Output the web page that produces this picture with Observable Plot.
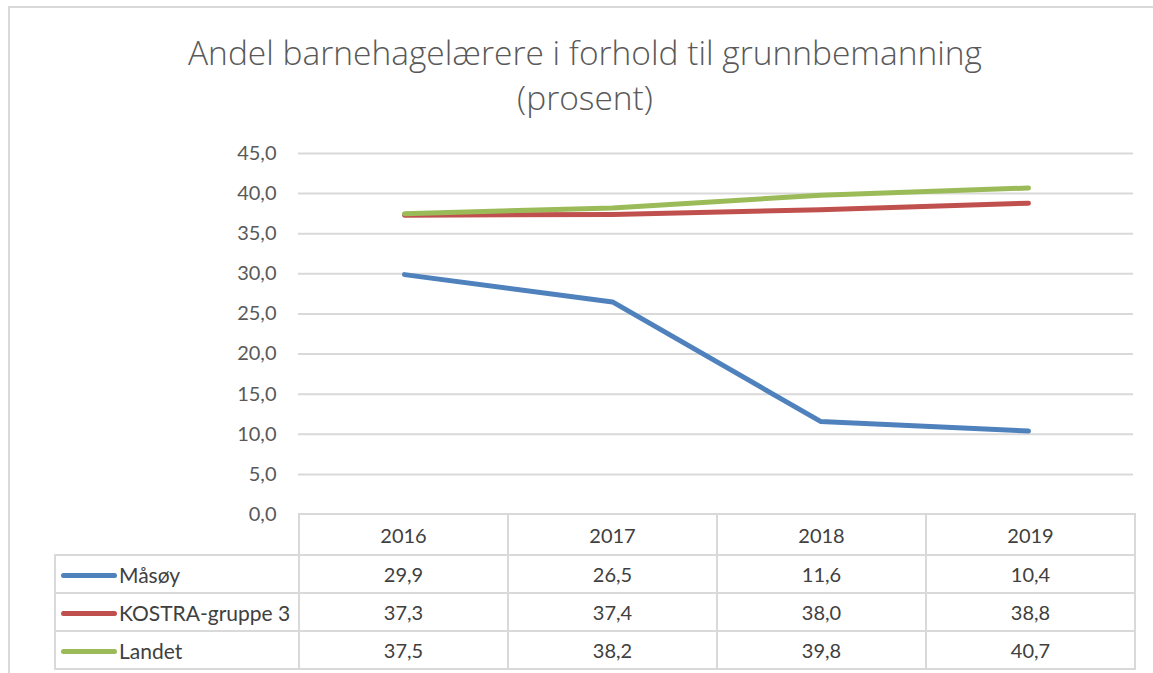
<!DOCTYPE html>
<html>
<head>
<meta charset="utf-8">
<script src="https://cdn.jsdelivr.net/npm/d3@7"></script>
<script src="https://cdn.jsdelivr.net/npm/@observablehq/plot@0.6"></script>
<style>
  html, body { margin: 0; padding: 0; background: #fff; width: 1153px; height: 673px; overflow: hidden; }
  body { position: relative; font-family: Lato, "Open Sans", sans-serif; color: #595959; }
  #frame { position: absolute; left: 8px; top: 6px; width: 1200px; height: 700px; border-left: 2px solid #D9D9D9; border-top: 2px solid #D9D9D9; box-sizing: border-box; }
  #title { position: absolute; left: 0; width: 1170px; top: 30px; text-align: center; font-family: "Open Sans", Lato, sans-serif; font-size: 33.5px; line-height: 45px; color: #595959; font-weight: 300; }
  #chart { position: absolute; left: 0; top: 120px; }
  #tbl { position: absolute; left: 54px; top: 513px; border-collapse: collapse; table-layout: fixed; font-size: 20px; color: #404040; }
  #tbl td { border: 2px solid #D9D9D9; padding: 0; text-align: center; box-sizing: border-box; }
  #tbl td.empty { border-left: none; border-top: none; }
  #tbl td.lab { text-align: left; white-space: nowrap; font-size: 21px; }
  .sw { display: inline-block; width: 56px; height: 5px; border-radius: 3px; vertical-align: middle; margin: 0 2px 0 5px; position: relative; top: -2px; }
</style>
</head>
<body>
<div id="frame"></div>
<div id="title">Andel barnehagelærere i forhold til grunnbemanning<br>(prosent)</div>
<div id="chart"></div>
<table id="tbl"></table>
<script>
const years = ["2016", "2017", "2018", "2019"];
const seriesNames = ["Måsøy", "KOSTRA-gruppe 3", "Landet"];
const seriesColors = ["#4F81BD", "#C0504D", "#9BBB59"];
const masoy = [29.9, 26.5, 11.6, 10.4];
const kostra = [37.3, 37.4, 38.0, 38.8];
const landet = [37.5, 38.2, 39.8, 40.7];
const yTicks = [0, 5, 10, 15, 20, 25, 30, 35, 40, 45];

const seriesValues = [masoy, kostra, landet];
const fmt = v => v.toFixed(1).replace(".", ",");

const data = [];
seriesNames.forEach((name, i) => {
  years.forEach((yr, j) => data.push({series: name, year: yr, value: seriesValues[i][j]}));
});

const chart = Plot.plot({
  width: 1153,
  height: 420,
  marginLeft: 298,
  marginRight: 20,
  marginTop: 33,
  marginBottom: 26,
  style: {fontFamily: "Lato, 'Open Sans', sans-serif", color: "#595959", background: "transparent", overflow: "visible"},
  x: {type: "point", domain: years, padding: 0.5, axis: null},
  y: {domain: [0, 45], label: null},
  color: {domain: seriesNames, range: seriesColors},
  marks: [
    Plot.gridY(yTicks.filter(t => t > 0), {stroke: "#D9D9D9", strokeOpacity: 1, strokeWidth: 2}),
    Plot.axisY(yTicks, {tickFormat: fmt, tickSize: 0, tickPadding: 22, fontSize: 20, fill: "#595959", label: null}),
    Plot.line(data, {x: "year", y: "value", z: "series", stroke: "series", strokeWidth: 5, strokeLinecap: "round", strokeLinejoin: "round"})
  ]
});
document.getElementById("chart").appendChild(chart);

// table
const tbl = document.getElementById("tbl");
const colgroup = document.createElement("colgroup");
[244, 209, 209, 209, 209].forEach(w => { const c = document.createElement("col"); c.style.width = w + "px"; colgroup.appendChild(c); });
tbl.appendChild(colgroup);
const hdr = document.createElement("tr");
hdr.style.height = "41px";
const e = document.createElement("td"); e.className = "empty"; hdr.appendChild(e);
years.forEach(y => { const td = document.createElement("td"); td.textContent = y; hdr.appendChild(td); });
tbl.appendChild(hdr);
seriesNames.forEach((name, i) => {
  const tr = document.createElement("tr");
  tr.style.height = "38px";
  const lab = document.createElement("td"); lab.className = "lab";
  const sw = document.createElement("span"); sw.className = "sw"; sw.style.background = seriesColors[i];
  lab.appendChild(sw);
  lab.appendChild(document.createTextNode(name));
  tr.appendChild(lab);
  seriesValues[i].forEach(v => { const td = document.createElement("td"); td.textContent = fmt(v); tr.appendChild(td); });
  tbl.appendChild(tr);
});
</script>
</body>
</html>
